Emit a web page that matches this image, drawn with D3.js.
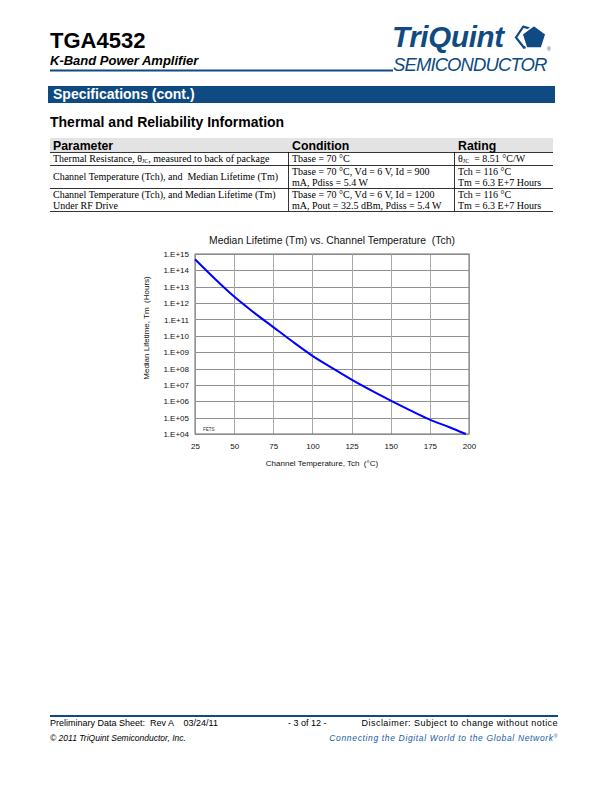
<!DOCTYPE html>
<html>
<head>
<meta charset="utf-8">
<script src="https://cdn.jsdelivr.net/npm/d3@7"></script>
<style>
  body { margin: 0; background: #fff; }
  svg { display: block; }
  text { white-space: pre; }
</style>
</head>
<body>
<svg id="page" width="612" height="792"></svg>
<script>
// chart values
var temps = [25, 37.5, 50, 62.5, 75, 87.5, 100, 112.5, 125, 137.5, 150, 162.5, 175, 187.5, 198];
var lifetimes = [4.8e14, 3.2e13, 2.5e12, 2.7e11, 3.4e10, 4.3e9, 6.0e8, 1.1e8, 2.1e7, 4.6e6, 1.1e6, 2.8e5, 7.6e4, 2.6e4, 1.0e4];
var xTicks = [25, 50, 75, 100, 125, 150, 175, 200];
var yTicks = [1e4, 1e5, 1e6, 1e7, 1e8, 1e9, 1e10, 1e11, 1e12, 1e13, 1e14, 1e15];

// table text
var tableHead = ["Parameter", "Condition", "Rating"];
var tableRows = [
  [["Thermal Resistance, θ<sub>JC</sub>, measured to back of package"], ["Tbase = 70 °C"], ["θ<sub>JC</sub>  = 8.51 °C/W"]],
  [["Channel Temperature (Tch), and  Median Lifetime (Tm)"], ["Tbase = 70 °C, Vd = 6 V, Id = 900", "mA, Pdiss = 5.4 W"], ["Tch = 116 °C", "Tm = 6.3 E+7 Hours"]],
  [["Channel Temperature (Tch), and Median Lifetime (Tm)", "Under RF Drive"], ["Tbase = 70 °C, Vd = 6 V, Id = 1200", "mA, Pout = 32.5 dBm, Pdiss = 5.4 W"], ["Tch = 116 °C", "Tm = 6.3 E+7 Hours"]]
];

var blue = "#0f4a82";
var sans = "'Liberation Sans', Arial, sans-serif";
var serif = "'Liberation Serif', 'Times New Roman', serif";

var svg = d3.select("#page");

// ---- header
svg.append("text").attr("x", 50).attr("y", 48).text("TGA4532")
  .attr("font-family", sans).attr("font-weight", "bold").attr("font-size", 22).attr("fill", "#000");
svg.append("text").attr("x", 50).attr("y", 65).text("K-Band Power Amplifier")
  .attr("font-family", sans).attr("font-weight", "bold").attr("font-style", "italic").attr("font-size", 13).attr("fill", "#000");
svg.append("line").attr("x1", 50).attr("x2", 393).attr("y1", 70.5).attr("y2", 70.5)
  .attr("stroke", blue).attr("stroke-width", 2);

// logo
svg.append("text").attr("x", 392).attr("y", 46.5).text("TriQuint")
  .attr("font-family", sans).attr("font-weight", "bold").attr("font-style", "italic")
  .attr("font-size", 29.5).attr("letter-spacing", -0.3).attr("fill", blue);
svg.append("text").attr("x", 393).attr("y", 70.5).text("SEMICONDUCTOR")
  .attr("font-family", sans).attr("font-style", "italic").attr("font-size", 18.5)
  .attr("letter-spacing", -0.9).attr("fill", blue);
function pentagon(cx, cy, r, rot) {
  return d3.range(5).map(function(i) {
    var a = rot + i * 2 * Math.PI / 5;
    return [cx + r * Math.sin(a), cy - r * Math.cos(a)];
  });
}
svg.append("path").attr("d", d3.line()(pentagon(527, 37, 11, -0.35)) + "Z")
  .attr("fill", "none").attr("stroke", blue).attr("stroke-width", 2.2);
svg.append("path").attr("d", d3.line()(pentagon(534, 38, 12.5, 0)) + "Z")
  .attr("fill", blue).attr("stroke", "#fff").attr("stroke-width", 1.5);
svg.append("text").attr("x", 547).attr("y", 51).text("®")
  .attr("font-family", sans).attr("font-size", 5).attr("fill", blue);

// section bar
svg.append("rect").attr("x", 48).attr("y", 86).attr("width", 507).attr("height", 17).attr("fill", blue);
svg.append("text").attr("x", 53).attr("y", 99).text("Specifications (cont.)")
  .attr("font-family", sans).attr("font-weight", "bold").attr("font-size", 14).attr("fill", "#fff");

svg.append("text").attr("x", 50).attr("y", 127).text("Thermal and Reliability Information")
  .attr("font-family", sans).attr("font-weight", "bold").attr("font-size", 14).attr("fill", "#000");

// ---- table
var colX = [50, 289, 455, 553];
var rowY = [138, 152, 165, 188, 211];
var tbl = svg.append("g");
tbl.append("rect").attr("x", colX[0]).attr("y", rowY[0]).attr("width", colX[3] - colX[0]).attr("height", rowY[1] - rowY[0])
  .attr("fill", "#e3e3e3");
tableHead.forEach(function(h, i) {
  tbl.append("text").attr("x", colX[i] + 3).attr("y", rowY[1] - 2.5).text(h)
    .attr("font-family", sans).attr("font-weight", "bold").attr("font-size", 12.3).attr("fill", "#000");
});
[1, 2, 3, 4].forEach(function(r) {
  tbl.append("line").attr("x1", colX[0]).attr("x2", colX[3]).attr("y1", rowY[r] + 0.5).attr("y2", rowY[r] + 0.5)
    .attr("stroke", "#000").attr("stroke-width", 0.8);
});
[1, 2].forEach(function(c) {
  tbl.append("line").attr("x1", colX[c] - 0.5).attr("x2", colX[c] - 0.5).attr("y1", rowY[1]).attr("y2", rowY[4])
    .attr("stroke", "#000").attr("stroke-width", 0.8);
});
tableRows.forEach(function(row, r) {
  var top = rowY[r + 1], bottom = rowY[r + 2];
  row.forEach(function(cell, c) {
    var n = cell.length;
    var first = n == 1 ? (top + bottom) / 2 + 3.3 : top + 9.5;
    cell.forEach(function(line, k) {
      var t = tbl.append("text").attr("x", colX[c] + 3).attr("y", first + k * 11)
        .attr("font-family", serif).attr("font-size", 10).attr("fill", "#000");
      // split on <sub> for subscript bits
      var parts = line.split(/<sub>|<\/sub>/);
      parts.forEach(function(p, j) {
        if (!p) return;
        var ts = t.append("tspan").text(p);
        if (j % 2 == 1) ts.attr("font-size", 6).attr("dy", 1.5);
        else if (j > 0) ts.attr("dy", -1.5);
      });
    });
  });
});

// ---- chart
var x = d3.scaleLinear().domain([25, 200]).range([195, 469]);
var y = d3.scaleLog().domain([1e4, 1e15]).range([434, 254]);
var chart = svg.append("g");

chart.append("text").attr("x", 332).attr("y", 244).attr("text-anchor", "middle")
  .text("Median Lifetime (Tm) vs. Channel Temperature  (Tch)")
  .attr("font-family", sans).attr("font-size", 10.4).attr("fill", "#111");

// grid
chart.append("g").selectAll("line").data(yTicks).enter().append("line")
  .attr("x1", x(25)).attr("x2", x(200))
  .attr("y1", function(d) { return Math.round(y(d)) + 0.5; })
  .attr("y2", function(d) { return Math.round(y(d)) + 0.5; })
  .attr("stroke", "#8f8f8f").attr("stroke-width", 1);
chart.append("g").selectAll("line").data(xTicks).enter().append("line")
  .attr("y1", y(1e15)).attr("y2", y(1e4))
  .attr("x1", function(d) { return Math.round(x(d)) + 0.5; })
  .attr("x2", function(d) { return Math.round(x(d)) + 0.5; })
  .attr("stroke", "#a8a8a8").attr("stroke-width", 1);
chart.append("rect").attr("x", x(25)).attr("y", y(1e15))
  .attr("width", x(200) - x(25)).attr("height", y(1e4) - y(1e15))
  .attr("fill", "none").attr("stroke", "#888").attr("stroke-width", 1.2);

// axes (labels only)
var yAxis = d3.axisLeft(y).tickValues(yTicks).tickSize(0).tickPadding(6)
  .tickFormat(function(d) {
    var e = Math.round(Math.log10(d));
    return "1.E+" + (e < 10 ? "0" + e : e);
  });
var gy = chart.append("g").attr("transform", "translate(" + x(25) + ",0)").call(yAxis);
gy.select(".domain").remove();
gy.selectAll("text").attr("font-family", sans).attr("font-size", 8).attr("fill", "#111");

var xAxis = d3.axisBottom(x).tickValues(xTicks).tickSize(0).tickPadding(9);
var gx = chart.append("g").attr("transform", "translate(0," + y(1e4) + ")").call(xAxis);
gx.select(".domain").remove();
gx.selectAll("text").attr("font-family", sans).attr("font-size", 8).attr("fill", "#111");

chart.append("text").attr("x", 322).attr("y", 466).attr("text-anchor", "middle")
  .text("Channel Temperature, Tch  (°C)")
  .attr("font-family", sans).attr("font-size", 8).attr("fill", "#111");
chart.append("text").attr("transform", "translate(149,328) rotate(-90)").attr("text-anchor", "middle")
  .text("Median Lifetime, Tm  (Hours)")
  .attr("font-family", sans).attr("font-size", 8).attr("fill", "#111");
chart.append("text").attr("x", 203).attr("y", 431).text("FETS")
  .attr("font-family", sans).attr("font-size", 4.5).attr("fill", "#333");

var curve = d3.line()
  .x(function(d, i) { return x(temps[i]); })
  .y(function(d) { return y(d); })
  .curve(d3.curveMonotoneX);
chart.append("path").datum(lifetimes).attr("d", curve)
  .attr("fill", "none").attr("stroke", "#0000ff").attr("stroke-width", 2);

// ---- footer
svg.append("line").attr("x1", 50).attr("x2", 558).attr("y1", 716).attr("y2", 716)
  .attr("stroke", blue).attr("stroke-width", 2);
var foot = svg.append("g").attr("font-family", sans).attr("font-size", 9).attr("fill", "#000");
foot.append("text").attr("x", 50).attr("y", 726).text("Preliminary Data Sheet:  Rev A    03/24/11");
foot.append("text").attr("x", 288).attr("y", 726).text("- 3 of 12 -");
foot.append("text").attr("x", 558).attr("y", 726).attr("text-anchor", "end").attr("letter-spacing", 0.45)
  .text("Disclaimer: Subject to change without notice");
foot.append("text").attr("x", 50).attr("y", 741).attr("font-style", "italic").attr("font-size", 8.5)
  .text("© 2011 TriQuint Semiconductor, Inc.");
var net = foot.append("text").attr("x", 558).attr("y", 741).attr("text-anchor", "end")
  .attr("font-style", "italic").attr("font-size", 8.5).attr("fill", "#1a5da6").attr("letter-spacing", 0.65);
net.append("tspan").text("Connecting the Digital World to the Global Network");
net.append("tspan").text("®").attr("font-size", 5).attr("dy", -3);
</script>
</body>
</html>
